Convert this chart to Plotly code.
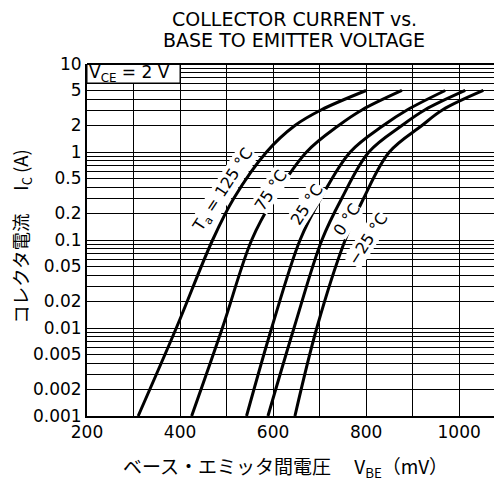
import math
import plotly.graph_objects as go

# Collector current (A) sample levels
ic = [0.001, 0.01, 0.1, 0.3, 1, 2, 3, 5]
# VBE (mV) for each temperature
vbe_125 = [310, 392, 470, 516, 586, 647, 703, 800]
vbe_75 = [425, 491, 554, 602, 672, 741, 791, 877]
vbe_25 = [543, 597, 658, 703, 766, 837, 888, 970]
vbe_0 = [589, 645, 705, 748, 806, 877, 926, 1013]
vbe_m25 = [647, 694, 755, 795, 850, 920, 964, 1052]

series = [vbe_125, vbe_75, vbe_25, vbe_0, vbe_m25]

labels = ["T<sub>a</sub> = 125 °C", "75 °C", "25 °C", "0 °C", "−25 °C"]
label_x = [492, 594, 673, 759, 805]
label_y = [0.37, 0.37, 0.25, 0.169, 0.103]

x_ticks = [200, 300, 400, 500, 600, 700, 800, 900, 1000]
x_text = ["200", "", "400", "", "600", "", "800", "", "1000"]

y_labeled = {0.001: "0.001", 0.002: "0.002", 0.005: "0.005", 0.01: "0.01", 0.02: "0.02",
             0.05: "0.05", 0.1: "0.1", 0.2: "0.2", 0.5: "0.5", 1: "1", 2: "2", 5: "5", 10: "10"}
y_ticks = []
for dec in [0.001, 0.01, 0.1, 1]:
    for n in range(1, 10):
        y_ticks.append(round(n * dec, 6))
y_ticks.append(10)
y_text = [y_labeled.get(v, "") for v in y_ticks]

FONT = "DejaVu Sans, Liberation Sans, sans-serif"
JFONT = "Noto Sans CJK JP, DejaVu Sans, sans-serif"

fig = go.Figure()
for s in series:
    fig.add_trace(go.Scatter(x=s, y=ic, mode="lines",
                             line=dict(color="black", width=3, shape="spline", smoothing=1.0),
                             showlegend=False, hoverinfo="skip"))

for t, lx, ly in zip(labels, label_x, label_y):
    fig.add_annotation(x=lx, y=math.log10(ly), yref="y", xref="x", text=t, showarrow=False,
                       textangle=-57, bgcolor="white", borderpad=0,
                       font=dict(family=FONT, size=16, color="black"))

# VCE box
fig.add_shape(type="rect", xref="x", yref="paper", x0=200, x1=400, y0=0.946, y1=1.0,
              fillcolor="white", line=dict(color="black", width=1), layer="above")
fig.add_annotation(x=201, xref="x", y=0.973, yref="paper", text="V<sub>CE</sub> = 2 V",
                   showarrow=False, xanchor="left", yanchor="middle",
                   font=dict(family=FONT, size=17, color="black"))

# Title
fig.add_annotation(x=0.5, y=1.129, xref="paper", yref="paper", text="COLLECTOR CURRENT vs.",
                   showarrow=False, xanchor="center", yanchor="middle",
                   font=dict(family=FONT, size=19, color="black"))
fig.add_annotation(x=0.5, y=1.069, xref="paper", yref="paper", text="BASE TO EMITTER VOLTAGE",
                   showarrow=False, xanchor="center", yanchor="middle",
                   font=dict(family=FONT, size=19, color="black"))

# Axis titles
fig.add_annotation(x=0.479, y=-0.145, xref="paper", yref="paper",
                   text="ベース・エミッタ間電圧　 V<sub>BE</sub>（mV）",
                   showarrow=False, xanchor="center", yanchor="middle",
                   font=dict(family=JFONT, size=19, color="black"))
fig.add_annotation(x=-0.159, y=0.51, xref="paper", yref="paper",
                   text="コレクタ電流　 I<sub>C</sub> (A)", textangle=-90,
                   showarrow=False, xanchor="center", yanchor="middle",
                   font=dict(family=JFONT, size=18.5, color="black"))

# The page is drawn with an 8px body margin, so the figure is sized to fit the window.
fig.update_layout(
    width=494, height=476,
    margin=dict(l=79, r=1, t=56, b=68),
    paper_bgcolor="white", plot_bgcolor="white",
    xaxis=dict(range=[200, 1090], tickvals=x_ticks, ticktext=x_text, automargin=False,
               showgrid=True, gridcolor="black", gridwidth=1,
               showline=True, linecolor="black", linewidth=2, mirror=False,
               ticks="", tickfont=dict(family=FONT, size=17, color="black"),
               zeroline=False),
    yaxis=dict(type="log", range=[-3, 1], tickvals=y_ticks, ticktext=y_text, automargin=False,
               showgrid=True, gridcolor="black", gridwidth=1,
               showline=True, linecolor="black", linewidth=2, mirror=False,
               ticks="", tickfont=dict(family=FONT, size=17, color="black"),
               zeroline=False),
)
# top border
fig.add_shape(type="line", xref="paper", yref="paper", x0=0, x1=1, y0=1, y1=1,
              line=dict(color="black", width=2), layer="above")

fig.write_html("out.html")
